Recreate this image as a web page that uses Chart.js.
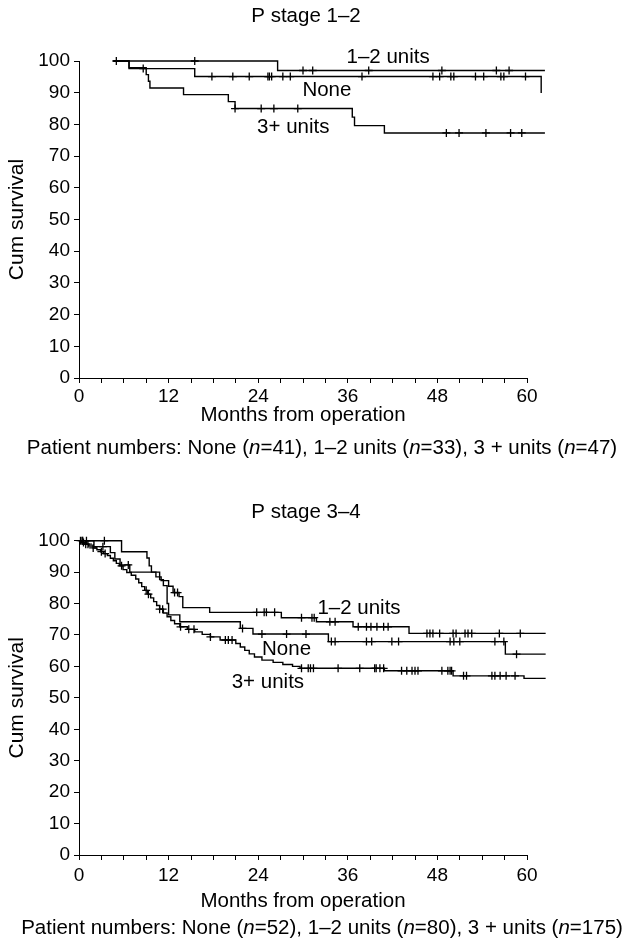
<!DOCTYPE html>
<html lang="en">
<head>
<meta charset="utf-8">
<title>Cum survival by P stage</title>
<script src="https://cdn.jsdelivr.net/npm/chart.js@4.4.1/dist/chart.umd.min.js"></script>
<style>
  html, body { margin: 0; padding: 0; background: #fff; }
  body { width: 626px; height: 947px; position: relative; overflow: hidden;
         font-family: 'Liberation Sans', Arial, sans-serif; color: #000; }
  .panel { position: absolute; left: 0; width: 626px; }
  .panel canvas { display: block; }
  .note { position: absolute; left: 322px; transform: translateX(-50%); margin: 0;
          white-space: nowrap; font-size: 20.5px; line-height: 22px; }
</style>
</head>
<body>
<div class="panel" style="top:0;height:470px"><canvas id="chart-top"></canvas></div>
<p class="note" style="top:436px">Patient numbers: None (<i>n</i>=41), 1–2 units (<i>n</i>=33), 3 + units (<i>n</i>=47)</p>
<div class="panel" style="top:470px;height:477px"><canvas id="chart-bottom"></canvas></div>
<p class="note" style="top:916px">Patient numbers: None (<i>n</i>=52), 1–2 units (<i>n</i>=80), 3 + units (<i>n</i>=175)</p>

<script>
'use strict';

/* ── Data (months, cum survival %) ─────────────────────────────── */
const X_TICK_LABELS = [0, 12, 24, 36, 48, 60];

// P stage 1–2
const S12_NONE_T = [4.6, 6.7, 15.5, 61.9];
const S12_NONE_S = [100, 97.6, 95.1, 89.9];
const S12_NONE_CENS = [8.6, 17.8, 20.6, 22.8, 25.3, 25.5, 25.8, 27.3, 28.3, 37.9, 47.4, 48.3, 49.8, 50.2, 53.1, 54.2, 56.5, 56.9, 59.8];

const S12_LOW_T = [4.6, 26.6, 62.4];
const S12_LOW_S = [100, 97.0, 97.0];
const S12_LOW_CENS = [5.0, 15.5, 30.0, 31.3, 38.8, 48.6, 55.9, 57.6];

const S12_HIGH_T = [4.6, 6.7, 9.0, 9.3, 9.5, 14.0, 20.0, 20.9, 36.6, 36.9, 40.9, 62.4];
const S12_HIGH_S = [100, 97.9, 95.7, 93.6, 91.5, 89.4, 87.2, 85.0, 82.3, 79.6, 77.3, 77.3];
const S12_HIGH_CENS = [20.9, 24.4, 26.1, 29.3, 49.2, 50.9, 54.5, 57.8, 59.3];

// P stage 3–4
const S34_NONE_T = [0, 2.0, 4.2, 4.8, 5.5, 6.8, 10.8, 11.3, 11.8, 12.0, 13.5, 21.6, 23.3, 33.4, 57.1, 62.5];
const S34_NONE_S = [100, 98.1, 96.2, 94.2, 92.3, 90.0, 87.6, 85.7, 80.0, 76.4, 74.2, 72.1, 70.3, 67.9, 63.9, 63.9];
const S34_NONE_CENS = [0.5, 1.0, 3.2, 6.6, 21.9, 24.5, 27.8, 30.4, 33.8, 34.3, 38.5, 39.2, 41.9, 42.8, 49.7, 50.2, 51.0, 55.7, 56.9, 58.6];

const S34_LOW_T = [0, 5.7, 9.1, 9.4, 9.7, 10.3, 11.0, 12.0, 12.6, 13.4, 13.9, 17.5, 27.1, 31.8, 36.7, 44.2, 62.5];
const S34_LOW_S = [100, 96.5, 94.5, 92.0, 90.0, 88.5, 87.3, 85.5, 83.5, 82.2, 78.7, 77.2, 75.5, 74.2, 72.6, 70.5, 70.5];
const S34_LOW_CENS = [0.4, 3.4, 12.8, 13.2, 23.8, 24.8, 25.1, 26.2, 29.8, 31.2, 31.5, 33.6, 34.3, 37.4, 38.5, 39.1, 39.9, 40.8, 41.4,
  46.6, 47.0, 47.4, 48.3, 50.1, 50.5, 51.7, 52.1, 52.6, 56.3, 59.1];

const S34_HIGH_T = [0, 0.3, 0.8, 1.3, 1.9, 2.4, 2.9, 3.3, 3.8, 4.2, 4.6, 5.0, 5.4, 5.9, 6.4, 7.0, 7.6, 8.0, 8.4, 8.8, 9.2, 9.6,
  10.0, 10.4, 10.8, 11.3, 11.8, 12.3, 12.8, 13.5, 14.5, 15.5, 16.5, 17.6, 18.9, 21.0, 21.6, 22.2, 22.8, 23.5, 24.5,
  26.0, 27.3, 28.6, 29.6, 40.9, 50.1, 59.6, 62.5];
const S34_HIGH_S = [100, 99.4, 98.9, 98.3, 97.7, 97.1, 96.5, 95.9, 95.3, 94.4, 93.6, 92.8, 92.0, 90.8, 89.9, 89.0, 87.8, 86.6,
  85.4, 84.2, 83.0, 81.8, 80.6, 79.4, 78.2, 77.0, 75.8, 74.6, 73.6, 72.6, 71.8, 71.0, 70.2, 69.4, 68.4, 67.3, 66.2,
  65.1, 64.0, 63.0, 62.0, 61.3, 60.6, 60.0, 59.4, 58.6, 57.0, 56.2, 56.2];
const S34_HIGH_CENS = [0.2, 0.6, 0.9, 1.2, 1.9, 3.0, 3.5, 5.7, 9.0, 9.3, 10.8, 11.2, 13.6, 14.7, 15.4, 17.6, 19.6, 20.0, 20.5,
  29.8, 30.7, 31.0, 31.4, 34.7, 37.6, 39.6, 39.8, 40.3, 40.8, 43.2, 43.9, 44.6, 45.0, 45.4, 48.6, 49.4, 49.7, 49.9,
  51.5, 51.9, 55.3, 55.7, 56.4, 57.2, 58.4];

/* ── Helpers ──────────────────────────────────────────────────── */
const FAMILY = "'Liberation Sans', Arial, sans-serif";
const TICK_FONT = { family: FAMILY, size: 19, weight: 'normal' };
const TEXT_FONT = { family: FAMILY, size: 20.5, weight: 'normal' };
const YTITLE_FONT = { family: FAMILY, size: 21, weight: 'normal' };
Chart.defaults.font.family = FAMILY;
Chart.defaults.color = '#000';

// value of a KM step curve at time t (used to sit censor marks on their curve)
function stepValue(times, surv, t) {
  let v = surv[0];
  for (let i = 0; i < times.length; i++) if (times[i] <= t) v = surv[i];
  return v;
}

function curveDataset(times, surv) {
  return {
    type: 'line',
    data: times.map((t, i) => ({ x: t, y: surv[i] })),
    stepped: 'before',
    borderColor: '#000',
    borderWidth: 1.4,
    pointRadius: 0,
    fill: false,
    clip: false,
  };
}

function censorDataset(cens, times, surv) {
  return {
    type: 'scatter',
    data: cens.map(t => ({ x: t, y: stepValue(times, surv, t) })),
    pointStyle: 'cross',
    pointRadius: 4,
    borderColor: '#000',
    borderWidth: 1.3,
    showLine: false,
    clip: false,
  };
}

// curve names written next to the lines
const curveLabels = {
  id: 'curveLabels',
  afterDatasetsDraw(chart, args, opts) {
    const { ctx, scales: { x, y } } = chart;
    ctx.save();
    ctx.font = `${TEXT_FONT.size}px ${FAMILY}`;
    ctx.fillStyle = '#000';
    ctx.textAlign = 'center';
    ctx.textBaseline = 'middle';
    opts.items.forEach(l => ctx.fillText(l.text, x.getPixelForValue(l.x), y.getPixelForValue(l.y)));
    ctx.restore();
  },
};

const axisGrid = { drawOnChartArea: false, color: '#000', tickLength: 5, lineWidth: 1 };

function kmChart(id, cfg) {
  new Chart(document.getElementById(id), {
    type: 'line',
    data: { datasets: cfg.datasets },
    plugins: [curveLabels],
    options: {
      responsive: true,
      maintainAspectRatio: false,
      animation: false,
      events: [],
      layout: { padding: { left: 0, right: 14, top: 0, bottom: 0 } },
      plugins: {
        legend: { display: false },
        tooltip: { enabled: false },
        title: { display: true, text: cfg.title, color: '#000', font: TEXT_FONT, padding: cfg.titlePad },
        curveLabels: { items: cfg.labels },
      },
      scales: {
        x: {
          type: 'linear', min: 0, max: 60,
          afterFit: s => { s.height = cfg.xHeight; },
          ticks: {
            stepSize: 3, autoSkip: false, maxRotation: 0, padding: cfg.xTickPad, color: '#000', font: TICK_FONT,
            callback: v => (X_TICK_LABELS.includes(v) ? String(v) : ''),
          },
          grid: axisGrid,
          border: { color: '#000', width: 1 },
          title: { display: true, text: 'Months from operation', color: '#000', font: TEXT_FONT, padding: { top: 0, bottom: cfg.xTitlePad } },
        },
        y: {
          min: 0, max: 100,
          afterFit: s => { s.width = 79; },
          ticks: { stepSize: 10, padding: 4, color: '#000', font: TICK_FONT },
          grid: axisGrid,
          border: { color: '#000', width: 1 },
          title: { display: true, text: 'Cum survival', color: '#000', font: YTITLE_FONT, padding: { top: 5, bottom: 0 } },
        },
        // empty right-hand strip: room for the curves that run past 60 months
        yRoom: {
          position: 'right',
          afterFit: s => { s.width = 85; },
          grid: { display: false },
          border: { display: false },
          ticks: { display: false },
        },
      },
    },
  });
}

/* ── P stage 1–2 ──────────────────────────────────────────────── */
kmChart('chart-top', {
  title: 'P stage 1–2',
  titlePad: { top: 3.7, bottom: 32.7 },
  xHeight: 92, xTickPad: 2, xTitlePad: 42,
  datasets: [
    curveDataset(S12_LOW_T, S12_LOW_S),
    curveDataset(S12_NONE_T, S12_NONE_S),
    curveDataset(S12_HIGH_T, S12_HIGH_S),
    censorDataset(S12_LOW_CENS, S12_LOW_T, S12_LOW_S),
    censorDataset(S12_NONE_CENS, S12_NONE_T, S12_NONE_S),
    censorDataset(S12_HIGH_CENS, S12_HIGH_T, S12_HIGH_S),
  ],
  labels: [
    { text: '1–2 units', x: 41.4, y: 101.0 },
    { text: 'None', x: 33.2, y: 90.9 },
    { text: '3+ units', x: 28.7, y: 79.0 },
  ],
});

/* ── P stage 3–4 ──────────────────────────────────────────────── */
kmChart('chart-bottom', {
  title: 'P stage 3–4',
  titlePad: { top: 29.7, bottom: 16.4 },
  xHeight: 92, xTickPad: 4.6, xTitlePad: 33,
  datasets: [
    curveDataset(S34_LOW_T, S34_LOW_S),
    curveDataset(S34_NONE_T, S34_NONE_S),
    curveDataset(S34_HIGH_T, S34_HIGH_S),
    censorDataset(S34_LOW_CENS, S34_LOW_T, S34_LOW_S),
    censorDataset(S34_NONE_CENS, S34_NONE_T, S34_NONE_S),
    censorDataset(S34_HIGH_CENS, S34_HIGH_T, S34_HIGH_S),
  ],
  labels: [
    { text: '1–2 units', x: 37.5, y: 78.6 },
    { text: 'None', x: 27.8, y: 65.5 },
    { text: '3+ units', x: 25.3, y: 55.0 },
  ],
});
</script>
</body>
</html>
